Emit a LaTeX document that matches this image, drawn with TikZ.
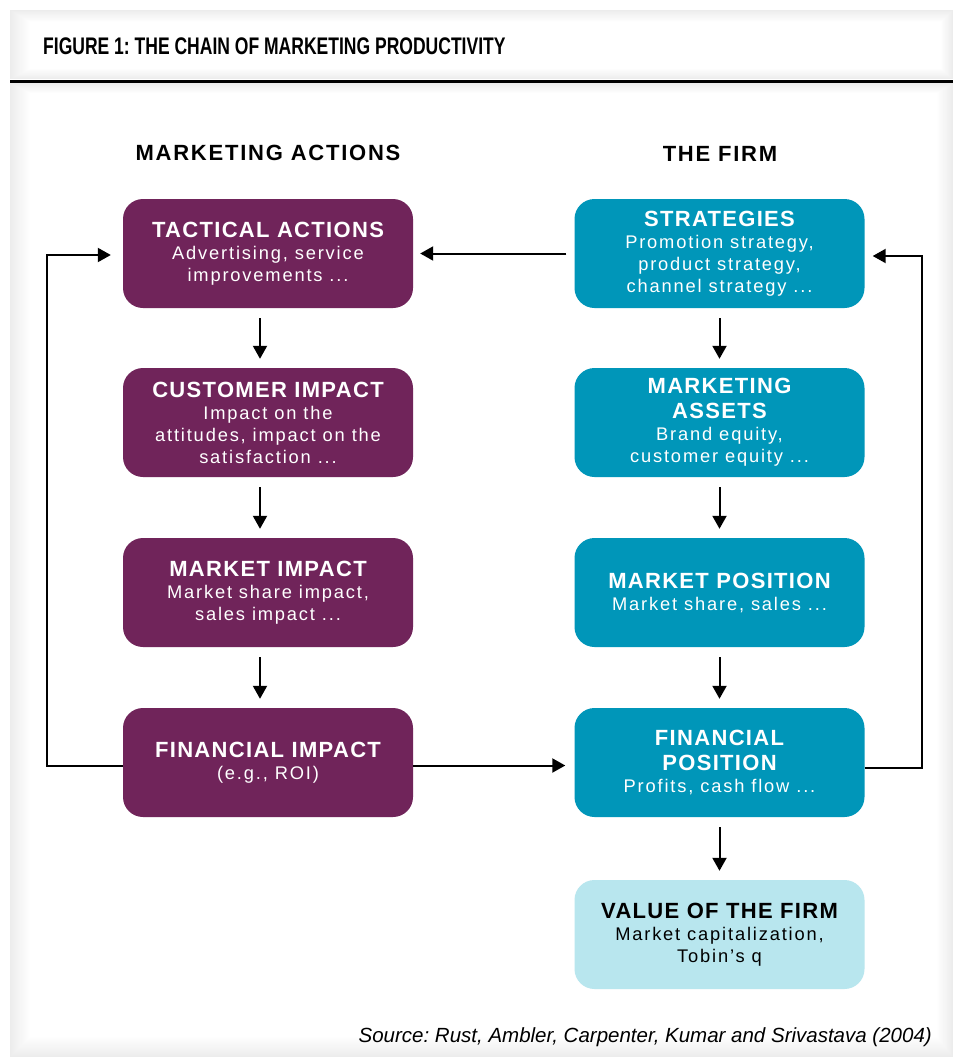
\documentclass[tikz,border=0pt]{standalone}
\usepackage{fontspec}
\setmainfont{Liberation Sans}
\newfontfamily\titlefont[FakeStretch=0.73]{Liberation Sans}
\newfontfamily\boxfont[LetterSpace=10]{Liberation Sans}
\newfontfamily\hdfont[LetterSpace=6]{Liberation Sans}
\newfontfamily\colfont[LetterSpace=8]{Liberation Sans}
\usetikzlibrary{arrows.meta}
\definecolor{mpurple}{HTML}{70245A}
\definecolor{mteal}{HTML}{0096B9}
\definecolor{mlight}{HTML}{B8E6EE}
\newcommand\hdf{\hdfont\bfseries\fontsize{22}{22}\selectfont}
\frenchspacing
\begin{document}
\begin{tikzpicture}[x=1pt,y=-1pt,
  box/.style={rounded corners=20pt, minimum width=290pt, minimum height=109pt, inner sep=0pt,
    align=center, text=white, font=\boxfont\fontsize{18.3}{22}\selectfont},
  lbox/.style={box, fill=mpurple},
  rbox/.style={box, fill=mteal},
  vbox/.style={box, fill=mlight, text=black},
  colhead/.style={font=\colfont\bfseries\fontsize{22}{24}\selectfont, text=black},
  arr/.style={line width=2pt, -{Triangle[length=13pt,width=14pt]}}]
\useasboundingbox (0,0) rectangle (953,1057);
% background
\fill[white] (0,0) rectangle (953,1057);
\foreach \i in {0,...,20}{
  \pgfmathsetmacro\g{15*(1-\i/20)}
  \fill[gray!\g] (10+\i,10+0.6*\i) rectangle (953-0.6*\i,79-0.5*\i);
  \fill[gray!\g] (10+\i,83+0.5*\i) rectangle (953-0.8*\i,1057-\i);
}
\draw[line width=3pt] (10,81) -- (953,81);
\node[anchor=base west, inner sep=0pt, font=\titlefont\bfseries\fontsize{24}{26}\selectfont] (title) at (43,55) {FIGURE 1: THE CHAIN OF MARKETING PRODUCTIVITY};
% column headings
\node[colhead] (h1) at (268,153) {MARKETING ACTIONS};
\node[colhead] (h2) at (720,154) {THE FIRM};
% left boxes
\node[lbox] (ta) at (268,253.5) {{\hdf TACTICAL ACTIONS}\\Advertising, service\\improvements ...};
\node[lbox] (ci) at (268,422.5) {{\hdf CUSTOMER IMPACT}\\Impact on the\\attitudes, impact on the\\satisfaction ...};
\node[lbox] (mi) at (268,592.5) {{\hdf MARKET IMPACT}\\Market share impact,\\sales impact ...};
\node[lbox] (fi) at (268,762.5) {{\hdf FINANCIAL IMPACT}\\(e.g., ROI)};
% right boxes
\node[rbox] (st) at (719.5,253.5) {{\hdf STRATEGIES}\\Promotion strategy,\\product strategy,\\channel strategy ...};
\node[rbox] (ma) at (719.5,422.5) {{\hdf MARKETING}\\[3pt]{\hdf ASSETS}\\Brand equity,\\customer equity ...};
\node[rbox] (mp) at (719.5,592.5) {{\hdf MARKET POSITION}\\Market share, sales ...};
\node[rbox] (fp) at (719.5,762.5) {{\hdf FINANCIAL}\\[3pt]{\hdf POSITION}\\Profits, cash flow ...};
\node[vbox] (vf) at (719.5,934.5) {{\hdf VALUE OF THE FIRM}\\Market capitalization,\\Tobin’s q};
% vertical arrows
\foreach \a/\b in {ta/ci,ci/mi,mi/fi}{
  \draw[arr] ([xshift=-8pt,yshift=-10pt]\a.south) -- ([xshift=-8pt,yshift=9pt]\b.north);
}
\foreach \a/\b in {st/ma,ma/mp,mp/fp,fp/vf}{
  \draw[arr] ([yshift=-10pt]\a.south) -- ([yshift=9pt]\b.north);
}
% horizontal arrows
\draw[arr] ([xshift=-8pt]st.west) -- ([xshift=7pt]ta.east);
\draw[arr] ([yshift=-3pt]fi.east) -- ([xshift=-9pt,yshift=-3pt]fp.west);
% loops
\coordinate (l1) at (47,765.5);
\coordinate (l2) at (47,255);
\draw[arr] ([yshift=-3pt]fi.west) -- (l1) -- (l2) -- ([xshift=-12pt,yshift=-1.5pt]ta.west);
\coordinate (r1) at (922,768);
\coordinate (r2) at (922,256);
\draw[arr] ([yshift=-5.5pt]fp.east) -- (r1) -- (r2) -- ([xshift=8pt,yshift=-2.5pt]st.east);
% source
\node[anchor=base east, inner sep=0pt, font=\itshape\fontsize{20.5}{24}\selectfont] (src) at (932,1042) {Source: Rust, Ambler, Carpenter, Kumar and Srivastava (2004)};
\end{tikzpicture}
\end{document}
